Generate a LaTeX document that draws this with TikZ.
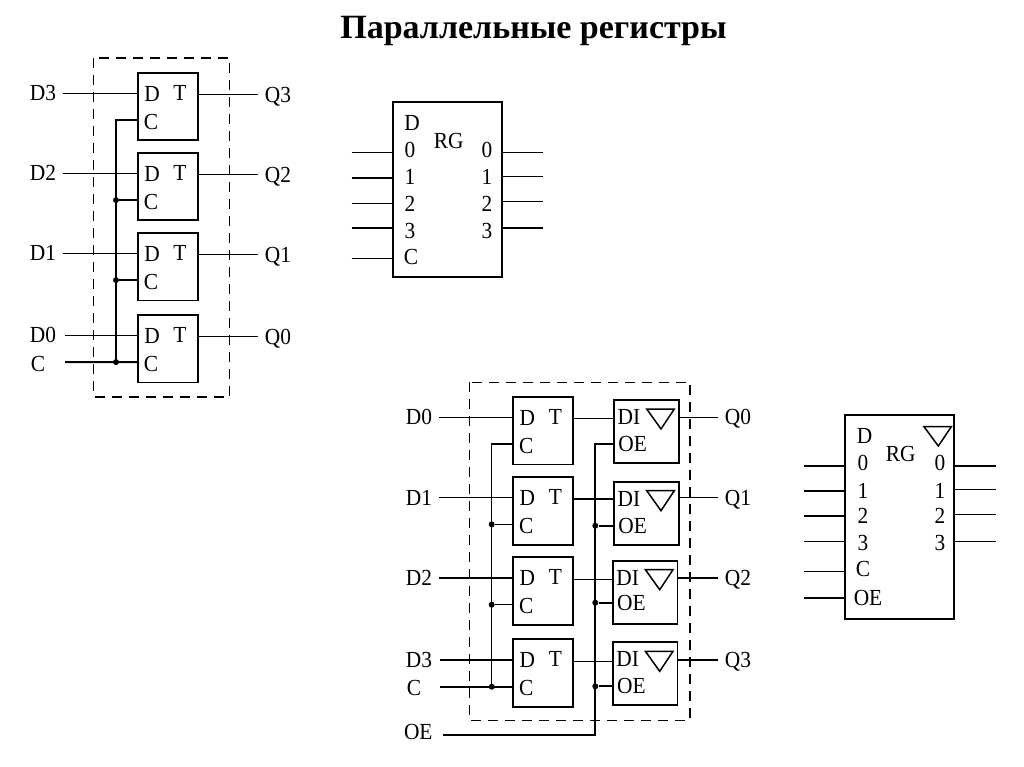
\documentclass[tikz,border=0pt]{standalone}
\usepackage{fontspec}
\setmainfont{Liberation Serif}
\newfontfamily\signfont[FakeStretch=0.93]{Liberation Serif}
\usepackage{tikz}
\tikzset{
  wire/.style={line width=1.5pt},
  heavywire/.style={line width=1.9pt},
  frame/.style={line width=1.4pt,dash pattern=on 10pt off 7pt},
  cellbox/.style={draw,line width=1.8pt,anchor=north west,inner sep=0pt,outer sep=0pt},
  sign/.style={inner sep=0pt,outer sep=0pt,text height=15pt,text depth=0pt,font=\signfont\fontsize{23}{23}\selectfont},
  junct/.style={circle,fill,inner sep=0pt,minimum size=6pt}
}
\newcommand{\drawwire}{\draw[wire]}
\newcommand{\flipflop}[3]{
    \node[cellbox,minimum width=60pt,minimum height=67.7pt] (#1) at (#2,#3) {};
    \node[sign] (#1dsign) at (#2+14,#3+21) {D};
    \node[sign] (#1tsign) at (#2+42,#3+20) {T};
    \node[sign] (#1csign) at (#2+13,#3+49) {C};
    \coordinate (#1d) at (#2,#3+20.6);
    \coordinate (#1c) at (#2,#3+47.4);
    \coordinate (#1q) at (#2+60,#3+22);
}
\newcommand{\tribuffer}[4]{
    \node[cellbox,minimum width=64.7pt,minimum height=63pt] (#1) at (#2,#3) {};
    \node[sign] (#1disign) at (#2+15,#3+17) {DI};
    \node[sign] (#1oesign) at (#2+18.7,#3+#4) {OE};
    \draw[wire] (#2+32.7,#3+9)--++(27.6,0)--++(-13.3,20)--cycle;
    \coordinate (#1oe) at (#2,#3+#4);
}
\newcommand{\inpin}[6]{
    \node[sign] (#1) at (#3,#4) {#2};
    \coordinate (#1s) at (#5,#6);
}
\newcommand{\rgleft}[6]{
    \node[sign] (#1sign) at (#3,#4) {#2};
    \coordinate (#1s) at (#5,#6);
    \drawwire (#1s)--++(41.5,0);
}
\begin{document}
\begin{tikzpicture}[x=1pt,y=-1pt]
\useasboundingbox (0,0) rectangle (1024,767);
\node[inner sep=0pt,font=\bfseries\fontsize{34}{34}\selectfont] (title) at (533.5,31) {Параллельные регистры};
\draw[frame] (93.7,58) rectangle (229.7,397);
\foreach \n/\t/\qy in {3/72.7/94.7,2/152.7/174.7,1/232.7/254.7,0/314.7/336.7}{
    \flipflop{ff\n}{138}{\t}
    \inpin{d\n}{D\n}{43}{\t+20.6}{\ifnum\n=0 65\else 63\fi}{\t+20.6}
    \draw[wire] (d\n s)--(ff\n d);
    \node[sign] (q\n) at (278,\qy) {Q\n};
    \coordinate (q\n s) at (258,\qy);
    \draw[wire] (ff\n q)--(q\n s);
}
\inpin{cin}{C}{38}{364}{65}{362.1}
\coordinate (cjoin) at (116,362.1);
\draw[heavywire] (cins)--(ff0c);
\draw[heavywire] (ff3c)-|(cjoin);
\node[junct] (cdot) at (cjoin) {};
\foreach \n in {1,2}{
    \node[junct] (j\n) at (ff\n c-|cjoin) {};
    \drawwire (j\n)--(ff\n c);
}
\node[cellbox,minimum width=108.7pt,minimum height=175pt] (rga) at (393.3,102.3) {};
\node[sign] (rgasign) at (448.7,141) {RG};
\node[sign] (rgad) at (412,123) {D};
\foreach \n/\y/\ly/\ry in {0/150/152.3/152.3,1/177/178/176.3,2/204/203.3/201.3,3/231/228/228}{
    \rgleft{ain\n}{\n}{410}{\y}{351.7}{\ly}
    \node[sign] (aout\n sign) at (487,\y) {\n};
    \coordinate (aout\n) at (543.3,\ry);
    \draw[wire] (aout\n-|rga.east)--(aout\n);
}
\rgleft{ainc}{C}{411}{257}{351.7}{258.3}
\draw[frame] (469.7,382.3) rectangle (690,720.7);
\foreach \n/\t/\bx/\bt/\oe in {0/396.7/614/400/44,1/477/614/481.7/44,2/557.3/612.7/560.7/42,3/639.3/612.7/642.3/44}{
    \flipflop{gg\n}{513.3}{\t}
    \tribuffer{bf\n}{\bx}{\bt}{\oe}
    \inpin{e\n}{D\n}{419}{\t+20.6}{\ifnum\n=3 440\else 439\fi}{\t+20.6}
    \draw[wire] (e\n s)--(gg\n d);
    \draw[wire] (gg\n q)--(gg\n q-|bf\n.west);
    \node[sign] (r\n) at (738,\t+20.6) {Q\n};
    \coordinate (r\n s) at (718.3,\t+20.6);
    \draw[wire] (r\n s-|bf\n.east)--(r\n s);
}
\inpin{fin}{C}{414}{688}{440}{686.7}
\coordinate (fjoin) at (491.7,686.7);
\draw[heavywire] (fins)--(gg3c);
\draw[wire] (gg0c)-|(fjoin);
\node[junct] (fdot) at (fjoin) {};
\foreach \n in {1,2}{
    \node[junct] (k\n) at (gg\n c-|fjoin) {};
    \drawwire (k\n)--(gg\n c);
}
\inpin{oein}{OE}{418.3}{732}{442.7}{735.3}
\coordinate (oejoin) at (595.3,735.3);
\draw[heavywire] (oeins)-|(bf0oe-|oejoin)--(bf0oe);
\foreach \n in {1,2,3}{
    \node[junct] (m\n) at (bf\n oe-|oejoin) {};
    \draw[heavywire] (m\n)--(bf\n oe);
}
\node[cellbox,minimum width=108.7pt,minimum height=203.4pt] (rgb) at (845.3,415.3) {};
\node[sign] (rgbsign) at (900.7,454) {RG};
\node[sign] (rgbd) at (864.7,436) {D};
\draw[wire] (924,426.7)--++(27.3,0)--++(-13,19.3)--cycle;
\foreach \n/\y/\ly/\ry in {0/463/466/466,1/491/491/489.3,2/516/516/514.7,3/543/541.3/541.3}{
    \rgleft{bin\n}{\n}{863}{\y}{804.3}{\ly}
    \node[sign] (bout\n sign) at (940,\y) {\n};
    \coordinate (bout\n) at (995.7,\ry);
    \draw[wire] (bout\n-|rgb.east)--(bout\n);
}
\rgleft{binc}{C}{863}{569}{804.3}{571.7}
\rgleft{binoe}{OE}{868}{598}{804.3}{598}
\end{tikzpicture}
\end{document}
